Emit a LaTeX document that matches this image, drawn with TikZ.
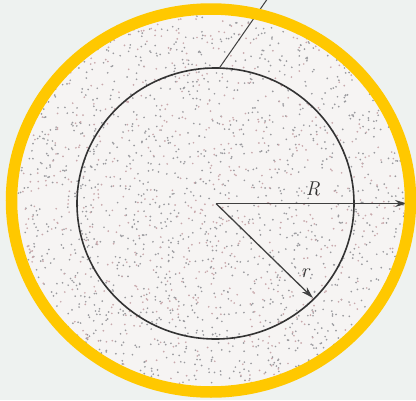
\documentclass[tikz,border=0pt]{standalone}
\usetikzlibrary{arrows.meta}
\definecolor{bgc}{HTML}{EEF2F0}
\definecolor{fillc}{HTML}{F6F4F3}
\definecolor{ringc}{HTML}{FFC800}
\definecolor{dota}{HTML}{9A9A9E}
\definecolor{dotb}{HTML}{C8A8AC}
\tikzset{
  innerline/.style={line width=1.6pt, draw=black!80},
  vec/.style={line width=1.3pt, draw=black!75, -{Stealth[length=12pt,width=7pt]}},
  lbl/.style={font=\fontsize{20}{22}\selectfont\itshape, text=black!80, inner sep=0pt},
}
\begin{document}
\begin{tikzpicture}[x=1pt,y=-1pt]
\useasboundingbox (0,0) rectangle (416,400);
\fill[bgc] (0,0) rectangle (416,400);
% shaded region
\fill[fillc] (211,200.5) ellipse [x radius=200, y radius=192];
\pgfmathsetseed{7}
\foreach \i in {1,...,1400}{
  \pgfmathsetmacro\a{360*rnd}
  \pgfmathsetmacro\q{sqrt(rnd)}
  \fill[dota] ({211+196*\q*cos(\a)},{200.5+188*\q*sin(\a)}) circle (0.95);
}
\foreach \i in {1,...,700}{
  \pgfmathsetmacro\a{360*rnd}
  \pgfmathsetmacro\q{sqrt(rnd)}
  \fill[dotb] ({211+196*\q*cos(\a)},{200.5+188*\q*sin(\a)}) circle (0.95);
}
% named points
\coordinate (O) at (216,203.5);
\coordinate (T) at (219,68.5);
\coordinate (Tend) at (268,-2);
\coordinate (Rend) at (407,203.5);
\coordinate (rend) at (313,298);
% inner circle
\draw[innerline] (215.5,203.5) ellipse [x radius=138.5, y radius=135.5];
% leader line
\draw[line width=1pt, black!75] (T) -- (Tend);
% vectors
\draw[vec] (O) -- (Rend);
\draw[vec] (O) -- (rend);
\node[lbl] (Rl) at (313,189) {R};
\node[lbl] (rl) at (305,273) {r};
% yellow ring
\draw[ringc, line width=11.5pt] (211,200.5) ellipse [x radius=199.5, y radius=191.5];
\end{tikzpicture}
\end{document}
